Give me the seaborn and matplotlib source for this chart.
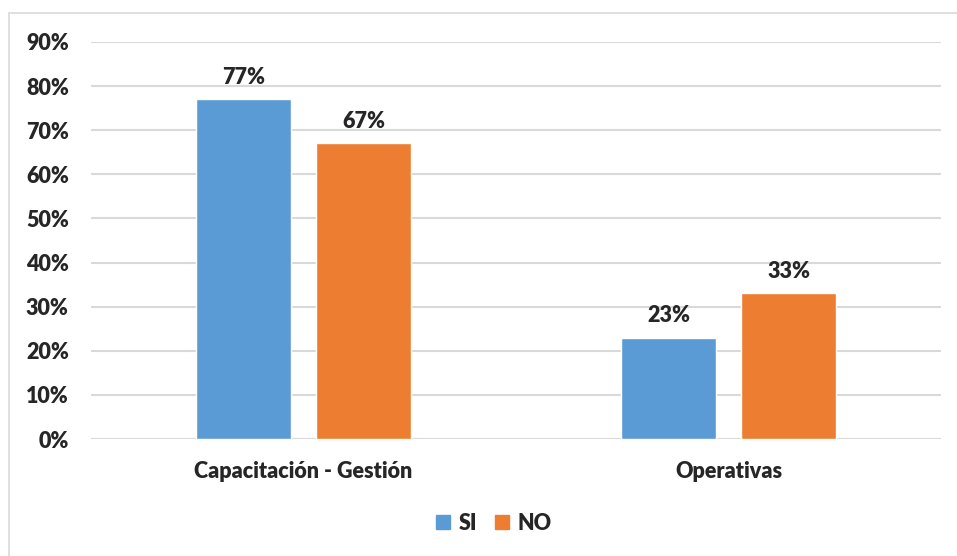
import pandas as pd
import numpy as np
import seaborn as sns
import matplotlib.pyplot as plt
from matplotlib.lines import Line2D

# datos
categorias = ['Capacitación - Gestión', 'Operativas']
si = [0.77, 0.23]
no = [0.67, 0.33]
series = ['SI', 'NO']
yticks = [0, 0.1, 0.2, 0.3, 0.4, 0.5, 0.6, 0.7, 0.8, 0.9]

data = pd.DataFrame({
    'Categoria': categorias * 2,
    'Valor': si + no,
    'Serie': ['SI'] * len(si) + ['NO'] * len(no),
})

sns.set_style('white')
plt.rcParams['font.family'] = ['Lato', 'DejaVu Sans']
peso = 'heavy'
fs = 15.5

fig = plt.figure(figsize=(9.57, 5.56), dpi=100)
ax = fig.add_axes([0.0951, 0.2104, 0.8882, 0.7141])

colores = {'SI': '#5B9BD5', 'NO': '#ED7D31'}
sns.barplot(x='Categoria', y='Valor', hue='Serie', data=data, palette=colores,
            width=0.565, gap=0.21, ax=ax, legend=False, saturation=1)

for c in ax.containers:
    ax.bar_label(c, labels=['%d%%' % round(v * 100) for v in c.datavalues],
                 padding=8, fontsize=fs, fontweight=peso)

ax.set_ylim(0, 0.9)
ax.set_xlim(-0.5, 1.5)
ax.set_yticks(yticks)
ax.set_yticklabels(['%d%%' % round(t * 100) for t in yticks], fontsize=fs, fontweight=peso)
ax.tick_params(axis='y', length=0, pad=16)
ax.tick_params(axis='x', length=0, pad=16, labelsize=fs)
for t in ax.get_xticklabels():
    t.set_fontweight(peso)
ax.set_xlabel('')
ax.set_ylabel('')
ax.yaxis.grid(True, color='#D9D9D9', linewidth=1.5)
ax.set_axisbelow(True)
for s in ax.spines.values():
    s.set_visible(False)

# borde del grafico
fig.add_artist(Line2D([0.0094, 0.0094], [0, 0.977], color='#D9D9D9', lw=1.2, transform=fig.transFigure))
fig.add_artist(Line2D([0.0094, 1], [0.977, 0.977], color='#D9D9D9', lw=1.2, transform=fig.transFigure))

handles = [plt.Rectangle((0, 0), 1, 1, color=colores[s]) for s in series]
fig.legend(handles, series, loc='center', bbox_to_anchor=(0.516, 0.059), ncol=2, frameon=False,
           handlelength=0.65, handleheight=0.65, handletextpad=0.4, columnspacing=0.8,
           prop={'weight': peso, 'size': fs})

plt.savefig('out.png', dpi=100)
